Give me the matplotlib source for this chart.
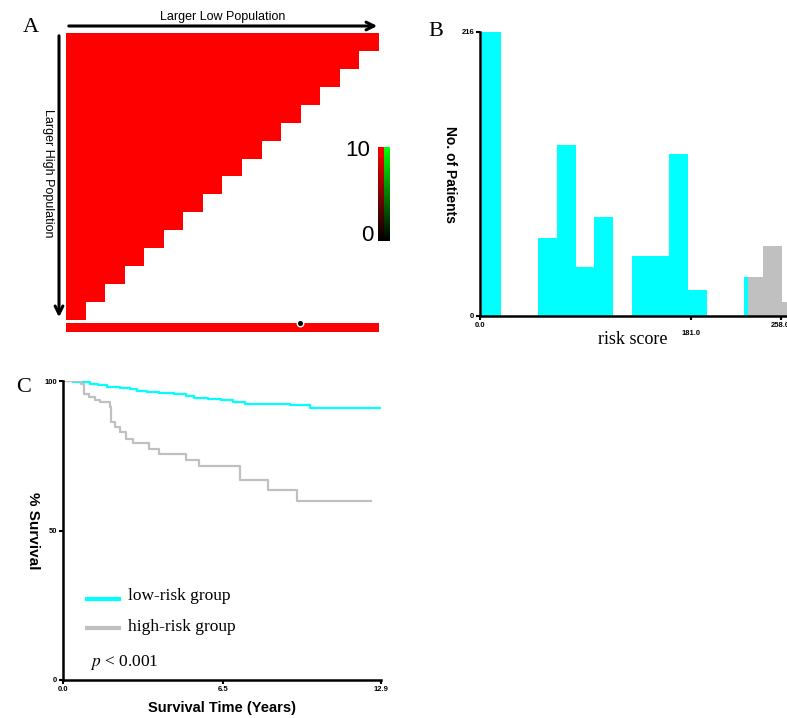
import matplotlib
matplotlib.use("Agg")
import matplotlib.pyplot as plt
import numpy as np
from matplotlib.colors import LinearSegmentedColormap
from matplotlib.patches import FancyArrowPatch

W, H = 787, 718
SANS = "Liberation Sans"
SERIF = "Liberation Serif"

# panel A: pairwise comparison grid (all cells at max score)
n_groups = 16
cell_score = 10
bar_score = 10
dot_position = 0.748  # fraction along the bottom bar

# panel B: risk score histogram
bin_start = 1.5
bin_width = 16.1
bin_counts = [216, 0, 0, 59, 130, 37, 75, 0, 46, 46, 123, 20, 0, 0, 30, 53, 11]
risk_cutoff = 229.7
b_xticks = [0, 181, 258]
b_xticklabels = ["0.0", "181.0", "258.0"]

# panel C: Kaplan-Meier curves
low_t = [0, 0.4, 0.8, 1.1, 1.4, 1.8, 2.3, 2.7, 3.0, 3.4, 3.9, 4.5, 5.0, 5.3,
         5.9, 6.4, 6.9, 7.4, 9.2, 10.0, 12.9]
low_s = [100, 99.8, 99.5, 99.0, 98.6, 98.0, 97.8, 97.2, 96.8, 96.3, 96.1, 95.8,
         94.9, 94.4, 94.1, 93.5, 93.0, 92.4, 91.9, 91.1, 91.1]
high_t = [0, 0.75, 0.85, 1.05, 1.3, 1.5, 1.9, 1.95, 2.1, 2.3, 2.55, 2.85, 3.5,
          3.9, 5.0, 5.5, 7.2, 8.3, 9.5, 12.5]
high_s = [100, 99.1, 95.8, 94.7, 93.5, 93.0, 91.3, 86.3, 84.6, 83.0, 80.7, 79.1,
          77.4, 75.7, 73.5, 71.5, 66.8, 63.5, 59.9, 59.9]

CYAN = "#00ffff"
GREY = "#c0c0c0"


def fx(px):
    return px / W


def fy(py):
    return 1 - py / H


def box(x0, y0, x1, y1):
    return [fx(x0), fy(y1), fx(x1) - fx(x0), fy(y0) - fy(y1)]


fig = plt.figure(figsize=(W / 100, H / 100), dpi=100)

# ---------------- panel A ----------------
red_cmap = LinearSegmentedColormap.from_list("kr", ["black", "red"])
red_cmap.set_bad("white")
green_cmap = LinearSegmentedColormap.from_list("kg", ["black", "#00ff00"])

M = np.full((n_groups, n_groups), np.nan)
for i in range(n_groups):
    M[i, : n_groups - i] = cell_score

axA = fig.add_axes(box(66, 33, 379, 320))
axA.imshow(M, cmap=red_cmap, vmin=0, vmax=10, aspect="auto", interpolation="nearest")
axA.axis("off")

axA2 = fig.add_axes(box(66, 323, 379, 332))
axA2.imshow(np.full((1, n_groups), bar_score), cmap=red_cmap, vmin=0, vmax=10,
            aspect="auto", interpolation="nearest")
axA2.scatter([-0.5 + dot_position * n_groups], [-0.5], s=22, color="black",
             edgecolor="white", linewidth=1, zorder=5, clip_on=False)
axA2.axis("off")

grad = np.linspace(0, 10, 100).reshape(-1, 1)
axcr = fig.add_axes(box(378, 147, 384, 241))
axcr.imshow(grad, cmap=red_cmap, origin="lower", aspect="auto")
axcr.axis("off")
axcg = fig.add_axes(box(384, 147, 390, 241))
axcg.imshow(grad, cmap=green_cmap, origin="lower", aspect="auto")
axcg.axis("off")
fig.text(fx(370), fy(150), "10", ha="right", va="center", fontsize=16, family=SANS)
fig.text(fx(373), fy(236), "0", ha="right", va="center", fontsize=16, family=SANS)

fig.add_artist(FancyArrowPatch((fx(66), fy(26)), (fx(380), fy(26)), transform=fig.transFigure,
                               arrowstyle="->", mutation_scale=14, lw=2.2, color="black"))
fig.add_artist(FancyArrowPatch((fx(59), fy(33)), (fx(59), fy(320)), transform=fig.transFigure,
                               arrowstyle="->", mutation_scale=14, lw=2.2, color="black"))
fig.text(fx(223), fy(17), "Larger Low Population", ha="center", va="center",
         fontsize=9, family=SANS)
fig.text(fx(48), fy(173), "Larger High Population", ha="center", va="center",
         fontsize=9, family=SANS, rotation=-90)
fig.text(fx(31), fy(27), "A", ha="center", va="center", fontsize=16, family=SERIF)

# ---------------- panel B ----------------
axB = fig.add_axes([fx(480), fy(316), 275 * 1.1657 / W, (316 - 32) / H])
for k, c in enumerate(bin_counts):
    left = bin_start + k * bin_width
    right = left + bin_width
    if right <= risk_cutoff:
        axB.bar(left, c, width=bin_width, align="edge", color=CYAN, linewidth=0)
    elif left >= risk_cutoff:
        axB.bar(left, c, width=bin_width, align="edge", color=GREY, linewidth=0)
    else:
        axB.bar(left, c, width=risk_cutoff - left, align="edge", color=CYAN, linewidth=0)
        axB.bar(risk_cutoff, c, width=right - risk_cutoff, align="edge", color=GREY, linewidth=0)
axB.set_xlim(0, 275)
axB.set_ylim(0, 216)
axB.set_xticks(b_xticks)
axB.set_xticklabels(b_xticklabels)
axB.set_yticks([0, 216])
axB.set_yticklabels(["0", "216"])
for s in ["top", "right"]:
    axB.spines[s].set_visible(False)
for s in ["left", "bottom"]:
    axB.spines[s].set_linewidth(1.8)
axB.tick_params(axis="both", length=3, width=1.5, pad=1, labelsize=5.5)
for lab in axB.get_xticklabels() + axB.get_yticklabels():
    lab.set_fontweight("bold")
    lab.set_family(SANS)
t181 = axB.xaxis.get_major_ticks()[1]
t181.tick1line.set_markersize(8)
t181.set_pad(7)
axB.set_ylabel("No. of Patients", fontsize=10, fontweight="bold", family=SANS,
               rotation=-90, va="center")
axB.yaxis.set_label_coords(-(480 - 450) / (275 * 1.1657), 0.5)
fig.text(fx(633), fy(339), "risk score", ha="center", va="center", fontsize=13, family=SERIF)
fig.text(fx(436), fy(31), "B", ha="center", va="center", fontsize=16, family=SERIF)

# ---------------- panel C ----------------
axC = fig.add_axes(box(63, 381, 381, 680))
axC.step(low_t, low_s, where="post", color=CYAN, lw=1.6)
axC.step(high_t, high_s, where="post", color=GREY, lw=1.6)
axC.set_xlim(0, 12.9)
axC.set_ylim(0, 100)
axC.set_xticks([0, 6.5, 12.9])
axC.set_xticklabels(["0.0", "6.5", "12.9"])
axC.set_yticks([0, 50, 100])
axC.set_yticklabels(["0", "50", "100"])
for s in ["top", "right"]:
    axC.spines[s].set_visible(False)
for s in ["left", "bottom"]:
    axC.spines[s].set_linewidth(1.8)
axC.tick_params(axis="both", length=3, width=1.5, pad=1, labelsize=5.5)
for lab in axC.get_xticklabels() + axC.get_yticklabels():
    lab.set_fontweight("bold")
    lab.set_family(SANS)
axC.set_ylabel("% Survival", fontsize=11, fontweight="bold", family=SANS,
               rotation=-90, va="center")
axC.yaxis.set_label_coords(-(63 - 33) / 318, 0.5)
axC.set_xlabel("Survival Time (Years)", fontsize=10.5, fontweight="bold", family=SANS,
               va="center")
axC.xaxis.set_label_coords(0.5, -(708 - 680) / 299)

fig.add_artist(plt.Line2D([fx(87), fx(119)], [fy(599), fy(599)], color=CYAN, lw=3))
fig.add_artist(plt.Line2D([fx(87), fx(119)], [fy(628), fy(628)], color=GREY, lw=3))
fig.text(fx(128), fy(596), "low-risk group", ha="left", va="center", fontsize=12.5, family=SERIF)
fig.text(fx(128), fy(627), "high-risk group", ha="left", va="center", fontsize=12.5, family=SERIF)
fig.text(fx(90), fy(663), r"$p$ < 0.001", ha="left", va="center", fontsize=12.5, family=SERIF,
         math_fontfamily="stix")
fig.text(fx(24), fy(387), "C", ha="center", va="center", fontsize=16, family=SERIF)

fig.savefig("out.png", dpi=100)
